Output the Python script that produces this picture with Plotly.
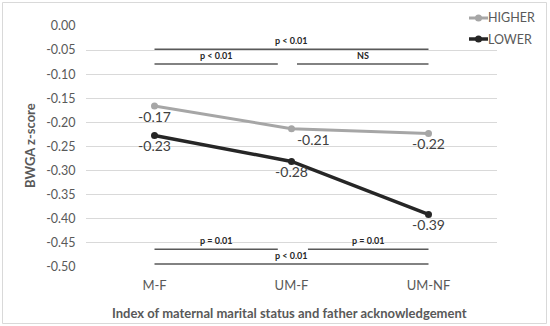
import plotly.graph_objects as go

# ---- data ----
categories = ["M-F", "UM-F", "UM-NF"]
series_names = ["HIGHER", "LOWER"]
higher = [-0.166, -0.213, -0.223]
lower = [-0.227, -0.281, -0.391]
y_ticks = [0.00, -0.05, -0.10, -0.15, -0.20, -0.25, -0.30, -0.35, -0.40, -0.45, -0.50]

# significance brackets: (label, start index, end index, level)
sig_labels = ["p < 0.01", "p < 0.01", "NS", "p = 0.01", "p = 0.01", "p < 0.01"]
sig_start = [0.0, 0.0, 1.04, 0.0, 1.12, 0.0]
sig_end = [2.0, 0.9, 2.0, 0.9, 2.0, 2.0]
sig_level = [-0.048, -0.079, -0.079, -0.463, -0.463, -0.494]

x_title = "Index of maternal marital status and father acknowledgement"
y_title = "BWGA z-score"

FONT = "Lato"
TXT = "#595959"
COLORS = ["#A6A6A6", "#262626"]
WIDTHS = [3, 3.5]

# plot area in pixels (for paper-coordinate conversion of legend/border/titles)
L, R, T, B = 86, 497, 26, 267
def px(x):
    return (x - L) / (R - L)
def py(y):
    return (B - y) / (B - T)

fig = go.Figure()
for name, vals, col, w, pos in zip(series_names, [higher, lower], COLORS, WIDTHS,
                                   [["bottom center", "bottom right", "bottom center"],
                                    ["bottom center", "bottom center", "bottom center"]]):
    fig.add_trace(go.Scatter(
        x=categories, y=vals, name=name, mode="lines+markers+text",
        line=dict(color=col, width=w), marker=dict(size=7, color=col),
        text=["%.2f" % v for v in vals], textposition=pos,
        textfont=dict(family=FONT, size=14, color="#404040"),
        showlegend=False, hoverinfo="skip",
    ))

shapes = []
annotations = []
for lab, s, e, lv in zip(sig_labels, sig_start, sig_end, sig_level):
    shapes.append(dict(type="line", xref="x", yref="y", x0=s, x1=e, y0=lv, y1=lv,
                       line=dict(color="#595959", width=1.5)))
    annotations.append(dict(x=(s + e) / 2, y=lv, xref="x", yref="y", text="<b>%s</b>" % lab,
                            showarrow=False, yanchor="bottom", yshift=1,
                            font=dict(family=FONT, size=9, color="#262626")))

# manual legend
for i, (name, col, w) in enumerate(zip(series_names, COLORS, WIDTHS)):
    yc = py(18 + 21 * i)
    shapes.append(dict(type="line", xref="paper", yref="paper", x0=px(469), x1=px(488),
                       y0=yc, y1=yc, line=dict(color=col, width=w)))
    shapes.append(dict(type="circle", xref="paper", yref="paper", xsizemode="pixel",
                       ysizemode="pixel", xanchor=px(478.5), yanchor=yc,
                       x0=-3.5, x1=3.5, y0=-3.5, y1=3.5, fillcolor=col, line=dict(width=0)))
    annotations.append(dict(x=px(486), y=yc, xref="paper", yref="paper", text=name,
                            showarrow=False, xanchor="left", yanchor="middle",
                            font=dict(family=FONT, size=12.5, color=TXT)))

# axis titles
annotations.append(dict(x=px(289), y=py(313), xref="paper", yref="paper",
                        text="<b>%s</b>" % x_title, showarrow=False,
                        xanchor="center", yanchor="middle",
                        font=dict(family=FONT, size=13, color=TXT)))
annotations.append(dict(x=px(30), y=py(146), xref="paper", yref="paper",
                        text="<b>%s</b>" % y_title, showarrow=False, textangle=-90,
                        xanchor="center", yanchor="middle",
                        font=dict(family=FONT, size=13, color=TXT)))

# outer border
shapes.append(dict(type="rect", xref="paper", yref="paper",
                   x0=px(2.5), x1=px(546.5), y0=py(323.5), y1=py(2.5),
                   line=dict(color="#D9D9D9", width=1), layer="below"))

fig.update_layout(
    width=550, height=326,
    margin=dict(l=L, r=550 - R, t=T, b=326 - B, autoexpand=False),
    paper_bgcolor="white", plot_bgcolor="white",
    font=dict(family=FONT, color=TXT),
    shapes=shapes, annotations=annotations,
    showlegend=False,
)
fig.update_xaxes(
    type="category", range=[-0.5, 2.5], showgrid=False, zeroline=False, showline=False,
    tickfont=dict(family=FONT, size=13, color=TXT), ticks="outside", ticklen=6,
    tickcolor="rgba(0,0,0,0)",
)
fig.update_yaxes(
    range=[-0.5, 0.0], tickvals=y_ticks, ticktext=["%.2f" % v for v in y_ticks],
    showgrid=True, gridcolor="#D9D9D9", gridwidth=1, zeroline=False, showline=False,
    tickfont=dict(family=FONT, size=12.5, color=TXT), ticks="outside", ticklen=7,
    tickcolor="rgba(0,0,0,0)",
)

fig.write_html("out.html", post_script="document.body.style.margin='0';",
               config={"displayModeBar": False})
